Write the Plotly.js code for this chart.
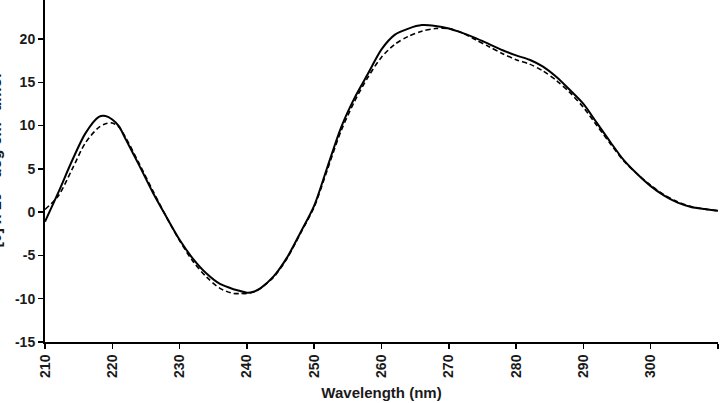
<!DOCTYPE html>
<html>
<head>
<meta charset="utf-8">
<script src="https://cdn.plot.ly/plotly-3.0.1.min.js"></script>
<style>html,body{margin:0;padding:0;background:#fff;}#chart{width:724px;height:403px;}</style>
</head>
<body>
<div id="chart"></div>
<script>
const wavelength = [210,212,214,216,218,219,220,221,222,224,226,228,230,232,234,236,238,239,240,241,242,244,246,248,250,252,254,256,258,260,262,264,266,268,270,272,274,276,278,280,282,284,286,288,290,292,294,296,298,300,302,304,306,308,310];
const solidSeries = [-1.1,2.3,5.9,9.1,11.0,11.1,10.7,9.9,8.4,5.4,2.3,-0.5,-3.2,-5.4,-7.1,-8.3,-8.9,-9.1,-9.3,-9.2,-8.8,-7.4,-5.2,-2.3,0.75,5.3,9.8,13.2,16.0,18.8,20.5,21.2,21.6,21.5,21.2,20.7,20.1,19.4,18.7,18.1,17.6,16.8,15.6,14.1,12.5,10.3,8.1,6.0,4.4,3.0,1.9,1.1,0.6,0.35,0.15];
const dashedSeries = [0.3,1.9,4.9,8.0,9.8,10.2,10.3,9.8,8.6,5.6,2.5,-0.5,-3.3,-5.7,-7.5,-8.8,-9.4,-9.4,-9.4,-9.2,-8.8,-7.5,-5.3,-2.4,0.6,5.0,9.4,12.8,15.6,17.9,19.4,20.3,20.9,21.2,21.2,20.7,19.9,19.1,18.3,17.6,17.1,16.3,15.2,13.8,12.1,10.0,7.9,5.9,4.4,3.1,2.0,1.2,0.65,0.35,0.15];
const xTicks = [210,220,230,240,250,260,270,280,290,300,310];
const yTicks = [-15,-10,-5,0,5,10,15,20];

const fontFam = 'Liberation Sans, Arial, sans-serif';
const txtColor = '#1a1a1a';
const traces = [
  {x: wavelength, y: solidSeries, type: 'scatter', mode: 'lines', line: {color: '#000', width: 2, shape: 'spline', smoothing: 0.8}, cliponaxis: false, showlegend: false},
  {x: wavelength, y: dashedSeries, type: 'scatter', mode: 'lines', line: {color: '#000', width: 1.6, dash: '5px,3px', shape: 'spline', smoothing: 0.8}, cliponaxis: false, showlegend: false}
];
const layout = {
  width: 724, height: 403,
  margin: {l: 45, r: 6, t: 0, b: 61},
  paper_bgcolor: '#fff', plot_bgcolor: '#fff',
  xaxis: {
    range: [210, 310], tickvals: xTicks, ticktext: xTicks.map(String), tickangle: -90,
    ticks: 'outside', ticklen: 5, tickwidth: 1.5, tickcolor: '#000',
    showline: true, linecolor: '#000', linewidth: 2, showgrid: false, zeroline: false,
    tickfont: {family: fontFam, size: 14, color: txtColor, weight: 'bold'},
    title: {text: 'Wavelength (nm)', font: {family: fontFam, size: 15, color: txtColor, weight: 'bold'}, standoff: 11}
  },
  yaxis: {
    range: [-15, 24.5], tickvals: yTicks, ticktext: yTicks.map(String),
    ticks: 'outside', ticklen: 5, tickwidth: 1.5, tickcolor: '#000',
    showline: true, linecolor: '#000', linewidth: 2, showgrid: false, zeroline: false,
    tickfont: {family: fontFam, size: 14, color: txtColor, weight: 'bold'}
  },
  annotations: [
    {xref: 'paper', yref: 'paper', x: -0.012, y: 1.016, xanchor: 'right', yanchor: 'middle', text: '25', showarrow: false,
     font: {family: fontFam, size: 14, color: txtColor, weight: 'bold'}},
    {xref: 'paper', yref: 'paper', x: -0.076, y: 0.545, xanchor: 'center', yanchor: 'middle', textangle: -90,
     text: '[θ] x 10<sup>-3</sup> deg cm<sup>2</sup> dmol<sup>-1</sup>', showarrow: false,
     font: {family: fontFam, size: 16, color: txtColor, weight: 'bold'}}
  ]
};
Plotly.newPlot('chart', traces, layout, {displayModeBar: false, staticPlot: true});
</script>
</body>
</html>
